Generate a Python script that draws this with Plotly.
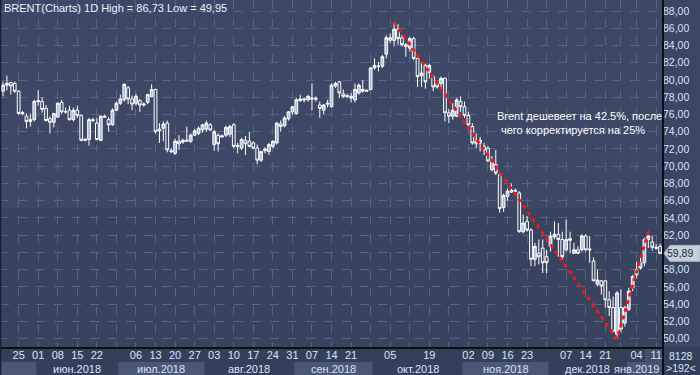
import pandas as pd
import plotly.graph_objects as go

# ---------------- data ----------------
holidays = ["2018-12-25", "2019-01-01"]
dates = [d for d in pd.bdate_range("2018-05-21", "2019-01-14") if d.strftime("%Y-%m-%d") not in holidays]

open_ = [
    78.7, 79.4, 79.7, 79.6, 78.7, 76.1, 75.8, 75.2, 75.4, 77.5,
    77.5, 76.7, 75.5, 75.1, 75.7, 77.4, 76.3, 76.5, 75.4, 76.5,
    75.9, 73.0, 73.1, 75.4, 75.0, 73.0, 75.8, 75.4, 74.8, 76.5,
    77.3, 77.7, 79.1, 77.8, 77.3, 77.6, 77.1, 77.4, 78.1, 78.9,
    74.3, 74.4, 75.0, 71.8, 71.5, 72.9, 72.8, 72.9, 72.9, 73.6,
    73.8, 74.2, 74.3, 74.8, 72.5, 73.6, 73.4, 73.6, 73.7, 74.8,
    72.3, 72.1, 73.0, 72.9, 72.7, 72.1, 70.7, 71.8, 71.7, 72.3,
    72.7, 74.9, 74.7, 75.5, 76.3, 76.1, 77.6, 77.8, 77.7, 77.9,
    77.9, 77.1, 76.5, 77.2, 76.9, 79.3, 79.8, 78.4, 78.1, 78.1,
    77.7, 78.5, 78.9, 78.7, 78.9, 81.4, 81.6, 81.6, 83.0, 84.6,
    84.6, 85.9, 84.9, 84.1, 83.7, 84.8, 82.5, 80.5, 81.7, 80.9,
    80.4, 79.6, 79.6, 80.2, 76.2, 75.8, 75.8, 77.5, 76.9, 75.9,
    74.6, 72.9, 72.7, 72.3, 72.1, 69.6, 70.2, 69.0, 65.2, 66.5,
    67.0, 67.2, 66.9, 62.4, 63.6, 62.6, 59.2, 59.9, 60.5, 59.5,
    60.7, 61.8, 62.1, 61.5, 60.3, 61.6, 59.9, 60.3, 60.3, 61.9,
    60.4, 59.0, 56.3, 56.7, 56.7, 54.5, 53.6, 50.5, 53.6, 51.8,
    53.4, 55.9, 57.4, 58.2, 58.8, 61.5, 61.2, 60.6, 60.7,
]
high = [
    79.8, 80.5, 79.8, 79.8, 78.8, 76.4, 76.1, 76.1, 77.7, 78.8,
    78.0, 77.1, 75.8, 76.2, 77.4, 77.7, 76.8, 77.0, 76.8, 77.0,
    76.0, 73.3, 75.6, 75.6, 75.6, 75.9, 76.0, 75.7, 76.7, 77.5,
    78.3, 79.6, 79.3, 78.2, 78.4, 77.8, 77.4, 78.4, 79.5, 79.0,
    75.0, 75.2, 75.3, 72.1, 73.2, 73.6, 73.2, 74.6, 73.8, 74.3,
    74.6, 74.9, 75.3, 75.0, 74.2, 73.8, 73.7, 74.7, 74.8, 75.0,
    72.7, 73.3, 73.5, 74.0, 72.9, 72.5, 71.8, 72.2, 72.7, 73.0,
    75.1, 75.3, 75.8, 76.4, 77.0, 77.9, 78.3, 78.0, 78.3, 79.6,
    78.1, 77.5, 77.2, 77.7, 79.6, 79.8, 79.9, 78.9, 78.4, 78.5,
    79.6, 79.6, 80.0, 78.9, 81.5, 82.5, 82.1, 82.9, 85.2, 85.4,
    86.73, 86.5, 85.2, 84.3, 85.0, 85.0, 82.7, 82.1, 81.9, 81.9,
    80.6, 79.9, 80.4, 80.3, 76.6, 77.3, 77.9, 78.1, 77.5, 76.3,
    75.0, 73.8, 73.4, 72.7, 72.3, 71.2, 71.9, 69.2, 66.8, 67.4,
    68.0, 67.4, 67.1, 64.4, 64.2, 62.8, 61.1, 61.5, 61.5, 60.3,
    62.4, 63.6, 63.4, 62.4, 63.8, 62.4, 61.1, 60.7, 62.1, 62.1,
    61.9, 59.4, 58.0, 56.8, 56.8, 55.5, 54.9, 55.5, 55.7, 53.8,
    55.9, 57.4, 58.9, 59.6, 61.7, 62.4, 61.9, 61.0, 61.0,
]
low = [
    78.1, 78.8, 78.3, 78.5, 76.0, 75.9, 74.4, 74.6, 75.2, 77.0,
    76.2, 75.2, 73.8, 74.5, 75.6, 76.1, 76.1, 75.3, 75.2, 75.6,
    72.9, 72.9, 72.4, 75.1, 73.0, 72.9, 75.6, 74.0, 74.7, 76.4,
    77.1, 77.5, 77.2, 76.5, 77.0, 76.3, 76.9, 77.2, 78.0, 73.8,
    72.7, 72.9, 71.6, 71.5, 71.3, 71.9, 72.6, 72.8, 72.7, 73.5,
    73.6, 73.9, 74.0, 74.1, 71.8, 71.7, 73.3, 73.4, 73.4, 72.1,
    71.5, 71.9, 71.3, 72.2, 72.0, 70.2, 70.5, 71.5, 71.3, 72.1,
    72.5, 74.0, 74.5, 75.3, 76.0, 76.0, 77.5, 77.4, 77.5, 76.5,
    77.5, 75.6, 76.0, 76.8, 76.8, 79.1, 77.9, 77.9, 77.9, 77.4,
    77.4, 78.3, 78.5, 78.6, 78.8, 81.2, 81.0, 81.4, 82.5, 84.3,
    83.9, 84.1, 83.9, 82.7, 83.3, 82.3, 79.2, 79.2, 79.0, 80.2,
    78.7, 79.0, 79.0, 75.2, 75.0, 75.4, 75.7, 76.3, 75.6, 74.6,
    72.5, 72.1, 71.7, 71.3, 70.5, 69.4, 69.0, 64.6, 64.7, 66.0,
    66.9, 66.9, 62.3, 62.2, 62.4, 58.4, 58.4, 58.6, 57.6, 57.6,
    60.1, 61.5, 59.5, 59.2, 60.1, 59.9, 59.8, 59.8, 60.1, 60.1,
    58.8, 56.7, 56.1, 55.1, 53.6, 52.6, 50.7, 49.95, 50.7, 51.4,
    53.2, 55.5, 57.0, 58.0, 58.4, 60.5, 60.2, 60.3, 59.8,
]
close = [
    79.4, 79.6, 79.3, 78.7, 76.1, 76.2, 75.2, 75.4, 77.5, 77.6,
    76.6, 75.3, 75.1, 76.1, 77.3, 76.3, 76.3, 75.4, 76.5, 75.9,
    73.0, 73.1, 75.4, 75.3, 73.1, 75.8, 75.7, 74.8, 76.5, 77.3,
    77.8, 79.5, 77.8, 77.2, 78.1, 77.1, 77.2, 78.3, 78.9, 74.0,
    74.1, 74.9, 71.9, 71.7, 72.9, 72.6, 73.0, 73.0, 73.6, 74.1,
    74.4, 74.8, 75.0, 74.2, 74.0, 72.6, 73.5, 74.5, 74.6, 72.3,
    72.4, 73.1, 72.6, 72.3, 72.1, 70.7, 71.7, 72.0, 72.5, 72.9,
    75.0, 74.6, 75.6, 76.3, 76.9, 77.7, 77.8, 77.7, 78.1, 77.8,
    77.8, 76.7, 77.1, 77.3, 79.4, 79.6, 78.5, 78.1, 78.2, 77.9,
    78.9, 79.4, 78.7, 78.8, 81.4, 81.7, 81.6, 82.7, 84.9, 84.9,
    85.9, 84.8, 84.1, 83.9, 84.8, 82.5, 80.4, 80.8, 79.8, 81.7,
    79.2, 79.2, 80.2, 76.2, 75.8, 76.5, 77.7, 76.9, 75.9, 74.8,
    72.7, 72.6, 73.0, 71.9, 70.6, 70.6, 69.2, 65.1, 66.6, 67.1,
    67.2, 67.1, 62.4, 63.4, 62.6, 59.2, 60.7, 59.5, 58.8, 58.8,
    61.9, 62.1, 61.5, 59.5, 61.5, 61.4, 60.3, 59.9, 61.9, 60.3,
    60.3, 56.7, 56.8, 56.1, 54.5, 53.6, 50.8, 55.3, 51.1, 53.6,
    55.5, 57.2, 58.0, 58.8, 61.5, 61.9, 60.6, 60.5, 59.89,
]

tick_label_dates = [
    "2018-05-25", "2018-06-01", "2018-06-08", "2018-06-15", "2018-06-22",
    "2018-07-06", "2018-07-13", "2018-07-20", "2018-07-27", "2018-08-03",
    "2018-08-10", "2018-08-17", "2018-08-24", "2018-08-31", "2018-09-07",
    "2018-09-14", "2018-09-21", "2018-10-05", "2018-10-19", "2018-11-02",
    "2018-11-09", "2018-11-16", "2018-11-23", "2018-12-07", "2018-12-14",
    "2018-12-21", "2019-01-04", "2019-01-11",
]
month_labels = {
    "2018-06": "июн.2018", "2018-07": "июл.2018", "2018-08": "авг.2018",
    "2018-09": "сен.2018", "2018-10": "окт.2018", "2018-11": "ноя.2018",
    "2018-12": "дек.2018", "2019-01": "янв.2019",
}
y_ticks = list(range(50, 89, 2))
note_lines = ["Brent дешевеет на 42.5%, после", "чего корректируется на 25%"]
title_name = "BRENT(Charts) 1D"
footer_lines = ["8128", ">192<"]

n = len(dates)
assert len(open_) == len(high) == len(low) == len(close) == n, (n, len(open_), len(high), len(low), len(close))
idx = list(range(n))

# ---------------- style ----------------
PLOT_BG = "#3c4866"
PLOT_BG_LOW = "#38445f"
PAPER_BG = "#3a4663"
AXIS_BG = "#34405a"
BAND_BG = "#4a5876"
GRID = "#566581"
TXT = "#d9e4f6"
FONT = "Liberation Sans, Arial, sans-serif"

PW, PH = 662, 347  # plot area px
px_per_idx = 3.911
x_min = -3 / px_per_idx
x_max = x_min + PW / px_per_idx
px_per_unit = 8.62
y_min = 50 - (PH - 338.6) / px_per_unit
y_max = y_min + PH / px_per_unit

fig = go.Figure()
fig.add_trace(go.Candlestick(
    x=idx, open=open_, high=high, low=low, close=close,
    increasing=dict(line=dict(color="#ffffff", width=1), fillcolor="#a9bddb"),
    decreasing=dict(line=dict(color="#ffffff", width=1), fillcolor=PLOT_BG),
    whiskerwidth=0, hoverinfo="skip", showlegend=False,
))

# red dashed trend line: peak -> trough -> recovery high
i_peak = max(idx, key=lambda i: high[i])
i_low = min(idx, key=lambda i: low[i])
i_rec = max(idx[i_low:], key=lambda i: high[i])
fig.add_trace(go.Scatter(
    x=[i_peak, i_low, i_rec], y=[high[i_peak], low[i_low], high[i_rec]],
    mode="lines", line=dict(color="#f01818", width=3, dash="4px,4px"),
    hoverinfo="skip", showlegend=False,
))

# x ticks (all Fridays get a grid line, selected ones a label)
fridays = [i for i, d in enumerate(dates) if d.weekday() == 4]
labset = set(tick_label_dates)
tick_text = [dates[i].strftime("%d") if dates[i].strftime("%Y-%m-%d") in labset else "" for i in fridays]

last = close[-1]
def fmt(v):
    return f"{v:.2f}".replace(".", ",")
y_text = ["" if abs(v - last) < 1.2 else fmt(v) for v in y_ticks]

shapes = []
annotations = []

# lower plot shade
shapes.append(dict(type="rect", xref="paper", yref="paper", x0=0, x1=1, y0=0, y1=(PH - 208) / PH,
                   fillcolor=PLOT_BG_LOW, line=dict(width=0), layer="below"))
# bottom axis strip
yb = -28 / PH
shapes.append(dict(type="rect", xref="paper", yref="paper", x0=0, x1=700 / PW, y0=yb, y1=0,
                   fillcolor=AXIS_BG, line=dict(width=0), layer="below"))
# month bands + labels
months = {}
for i, d in enumerate(dates):
    months.setdefault(d.strftime("%Y-%m"), []).append(i)
keys = list(months.keys())
band_top = -(362 - PH) / PH
for k_i, k in enumerate(keys):
    ids = months[k]
    if k_i % 2 == 0:
        shapes.append(dict(type="rect", xref="x", yref="paper", x0=ids[0] - 0.5, x1=min(ids[-1] + 0.5, x_max),
                           y0=yb, y1=band_top, fillcolor=BAND_BG, line=dict(width=0), layer="below"))
    if k in month_labels:
        cx = (ids[0] + ids[-1]) / 2
        last_month = k_i == len(keys) - 1
        annotations.append(dict(
            text=month_labels[k], xref="paper" if last_month else "x", yref="paper",
            x=0.999 if last_month else cx, xanchor="right" if last_month else "center",
            y=-(368.5 - PH) / PH, yanchor="middle", showarrow=False,
            font=dict(family=FONT, size=11, color=TXT)))

# current-candle highlight box on the date axis
shapes.append(dict(type="rect", xref="paper", yref="paper", x0=645 / PW, x1=1, y0=yb, y1=-2 / PH,
                   fillcolor="#4b5470", line=dict(width=0), opacity=0.8, layer="below"))

# black separators
shapes.append(dict(type="line", xref="paper", yref="paper", x0=0, x1=1, y0=-1 / PH, y1=-1 / PH,
                   line=dict(color="#0c0f16", width=2)))
shapes.append(dict(type="line", xref="paper", yref="paper", x0=1.0015, x1=1.0015, y0=yb, y1=1,
                   line=dict(color="#0c0f16", width=2)))
shapes.append(dict(type="line", xref="paper", yref="paper", x0=0.0008, x1=0.0008, y0=yb, y1=1,
                   line=dict(color="#1a2030", width=1.5)))

# last price tag
hh = 8 / px_per_unit
xp0, xp1, xp2 = 1.003, 1.003 + 6 / PW, 700 / PW
shapes.append(dict(type="path", xref="paper", yref="y",
                   path=f"M {xp0},{last} L {xp1},{last + hh} L {xp2},{last + hh} L {xp2},{last - hh} L {xp1},{last - hh} Z",
                   fillcolor="#c6cfdc", line=dict(color="#aab4c4", width=1), layer="above"))
annotations.append(dict(text=fmt(last), xref="paper", yref="y", x=666 / PW, y=last, xanchor="left",
                        yanchor="middle", showarrow=False, borderpad=0,
                        font=dict(family=FONT, size=10.5, color="#1e2842")))

# title
annotations.append(dict(text=f"{title_name} High = {fmt(max(high))} Low = {fmt(min(low))}",
                        xref="paper", yref="paper", x=2 / PW, y=(PH - 7.5) / PH, xanchor="left", yanchor="middle",
                        showarrow=False, font=dict(family=FONT, size=11, color="#eef2f9")))
# note text
for j, line in enumerate(note_lines):
    annotations.append(dict(text=line, xref="paper", yref="paper", x=(495 + 4 * j) / PW, y=(PH - (116 + 13.5 * j)) / PH,
                            xanchor="left", yanchor="middle", showarrow=False,
                            font=dict(family=FONT, size=11, color="#ffffff")))
# bottom-right counters
for j, t in enumerate(footer_lines):
    annotations.append(dict(text=t, xref="paper", yref="paper", x=681 / PW, y=-(356 + 12 * j - PH) / PH,
                            xanchor="center", yanchor="middle", showarrow=False, borderpad=0,
                            font=dict(family=FONT, size=10.5, color=TXT)))

fig.update_layout(
    width=700, height=375,
    margin=dict(l=0, r=700 - PW, t=0, b=375 - PH, pad=0),
    paper_bgcolor=PAPER_BG, plot_bgcolor=PLOT_BG,
    boxgap=0.3, boxgroupgap=0,
    xaxis=dict(range=[x_min, x_max], tickmode="array", tickvals=fridays, ticktext=tick_text,
               showgrid=True, gridcolor=GRID, griddash="dash", gridwidth=1,
               ticks="", zeroline=False, showline=False, rangeslider=dict(visible=False),
               tickfont=dict(family=FONT, size=11, color=TXT), fixedrange=True),
    yaxis=dict(range=[y_min, y_max], side="right", tickmode="array", tickvals=y_ticks, ticktext=y_text,
               showgrid=True, gridcolor=GRID, griddash="dash", gridwidth=1,
               ticks="", zeroline=False, showline=False,
               tickfont=dict(family=FONT, size=10.5, color=TXT), fixedrange=True),
    shapes=shapes, annotations=annotations,
    showlegend=False,
)

fig.write_html("out.html")
